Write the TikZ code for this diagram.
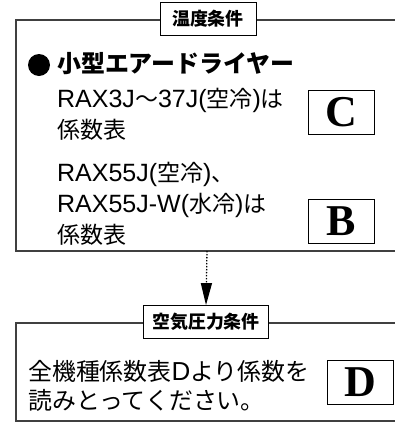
\documentclass[tikz,border=0pt]{standalone}
\usepackage{fontspec}
\setmainfont{Liberation Sans}
\newfontfamily\jp[Scale=0.92]{Noto Sans CJK JP}
\newfontfamily\letterfont{Liberation Serif}
\usetikzlibrary{arrows.meta}

\begin{document}
\begin{tikzpicture}[x=1pt,y=-1pt,
  frame/.style={line width=1.1pt,draw=black!75},
  tag/.style={draw,fill=white,line width=0.8pt,inner sep=0pt,minimum height=33pt,
    font=\jp\bfseries\fontsize{19.5}{19.5}\selectfont},
  body/.style={anchor=north west,align=left,inner sep=0pt,
    font=\fontsize{25}{31}\selectfont},
  letterbox/.style={draw,line width=0.8pt,inner sep=0pt,minimum width=66pt,minimum height=44pt,
    font=\letterfont\bfseries\fontsize{44}{44}\selectfont}]
\useasboundingbox (0,0) rectangle (395,424);
% temperature frame
\draw[frame] (395,20) -- (16,20) -- (16,251) -- (395,251);
\coordinate (tempbottom) at (207,251);
\node[tag,minimum width=96pt] (templabel) at (208,19) {温度条件};
\node[circle,fill=black,inner sep=0pt,minimum size=22pt] (dot) at (39,65) {};
\node[anchor=base west,inner sep=0pt,font=\jp\bfseries\fontsize{26}{26}\selectfont] (dryer) at (57,72) {小型エアードライヤー};
\node[body] (smalltext) at (57,88) {RAX3J{\jp ～}37J({\jp 空冷}){\jp は}\\{\jp 係数表}};
\node[letterbox] (boxC) at (341,112) {C};
\node[body] (largetext) at (57,162) {RAX55J({\jp 空冷}){\jp 、}\\RAX55J-W({\jp 水冷}){\jp は}\\{\jp 係数表}};
\node[letterbox] (boxB) at (341,221) {B};
% pressure frame
\draw[frame] (395,323) -- (16,323) -- (16,421) -- (395,421);
\node[tag,minimum width=125pt] (presslabel) at (206,322) {空気圧力条件};
\node[body,font=\jp\fontsize{26}{29}\selectfont] (alltext) at (28,360) {全機種係数表{\rmfamily D}より係数を\\読みとってください。};
\node[letterbox] (boxD) at (360,382.5) {D};
\draw[line width=1.3pt,dash pattern=on 1.3pt off 1.7pt,-{Triangle[length=22pt,width=11pt]}] (tempbottom) -- (presslabel.north);
\end{tikzpicture}
\end{document}
